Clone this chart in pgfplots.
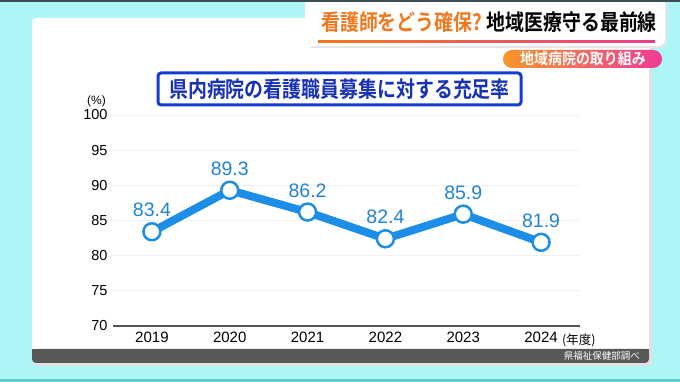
\documentclass[border=0pt]{standalone}
\usepackage{fontspec}
\setmainfont{Liberation Sans}
\newfontfamily\cjk{Noto Sans CJK JP}[BoldFont={Noto Sans CJK JP Bold}]
\usepackage{pgfplots}
\pgfplotsset{compat=1.18}
\definecolor{bgc}{RGB}{172,246,246}
\definecolor{topdark}{RGB}{60,78,84}
\definecolor{tealline}{RGB}{100,205,205}
\definecolor{barc}{RGB}{88,88,88}
\definecolor{orangeT}{RGB}{242,120,30}
\definecolor{pinkT}{RGB}{236,60,140}
\definecolor{pillO}{RGB}{246,150,40}
\definecolor{pillP}{RGB}{240,60,150}
\definecolor{boxblue}{RGB}{20,60,210}
\definecolor{boxtext}{RGB}{25,50,180}
\definecolor{lineblue}{RGB}{28,142,232}
\definecolor{labelblue}{RGB}{34,132,212}
\definecolor{gridc}{RGB}{240,240,240}
\definecolor{axisc}{RGB}{85,85,85}
\begin{document}
\begin{tikzpicture}
\useasboundingbox (0,0) rectangle (680pt,382pt);
\begin{scope}[x=1pt,y=-1pt,yshift=382pt]
\clip (0,0) rectangle (680,382);
\fill[bgc] (0,0) rectangle (680,382);
% panel
\fill[black!12,rounded corners=4] (34,20) rectangle (652,366);
\fill[white,rounded corners=4] (32,18) rectangle (649,363);
\fill[barc,rounded corners=4] (32,349) rectangle (649,363);
\fill[barc] (32,349) rectangle (649,355);
\node[anchor=east,text=white,inner sep=0,font=\cjk\fontsize{9.5}{10}\selectfont] at (640,356) {県福祉保健部調べ};
% banner
\fill[black!10,rounded corners=7] (307,-10) rectangle (667,48);
\fill[white,rounded corners=7] (305,-10) rectangle (665,46);
\shade[left color=orangeT,right color=pinkT] (318,41) rectangle (655,43);
\node[anchor=west,inner sep=0,font=\cjk\bfseries\fontsize{22}{24}\selectfont] at (321,22)
  {\scalebox{0.86}[1]{\textcolor{orangeT}{看護師をどう確保?}\hspace{5pt}地域医療守る最前線}};
% pill
\shade[rounded corners=9,left color=pillO,right color=pillP] (503,50) rectangle (662,68);
\node[anchor=center,inner sep=0,text=white,font=\cjk\bfseries\fontsize{15.5}{17}\selectfont] at (583,59)
  {\scalebox{0.9}[1]{地域病院の取り組み}};
% chart title box
\draw[boxblue,line width=3pt,fill=white,rounded corners=3] (158,73) rectangle (521,105);
\node[anchor=center,inner sep=0,text=boxtext,font=\cjk\bfseries\fontsize{22}{24}\selectfont] at (339.5,89)
  {\scalebox{0.86}[1]{県内病院の看護職員募集に対する充足率}};
% units
\node[anchor=east,inner sep=0,font=\fontsize{12}{14}\selectfont] at (106,101) {(\%)};
\node[anchor=west,inner sep=0,font=\cjk\fontsize{12.5}{14}\selectfont] at (562,340) {(年度)};
\fill[topdark] (0,0) rectangle (680,2);
\fill[tealline] (0,379) rectangle (680,382);
\end{scope}
\begin{axis}[
  at={(113pt,56pt)}, anchor=south west,
  scale only axis, width=467pt, height=211pt,
  xmin=-0.5, xmax=5.5, ymin=70, ymax=100,
  xtick={0,1,2,3,4,5},
  xticklabels={2019,2020,2021,2022,2023,2024},
  ytick={70,75,80,85,90,95,100},
  axis line style={draw=none},
  tick style={draw=none},
  ymajorgrids, grid style={gridc,line width=0.8pt},
  /pgf/number format/assume math mode=true,
  tick label style={font=\fontsize{14.5}{16}\selectfont},
  xticklabel style={font=\fontsize{15}{17}\selectfont,yshift=-2pt},
  yticklabel style={xshift=-2pt},
  clip=false,
]
\draw[axisc,line width=2pt] (axis cs:-0.5,70) -- (axis cs:5.5,70);
\addplot[color=lineblue,line width=8pt,line join=round,
  mark=*,mark size=8.5pt,
  mark options={fill=white,draw=lineblue,line width=2.5pt},
  nodes near coords,
  every node near coord/.append style={anchor=center,yshift=21.5pt,inner sep=0,
    text=labelblue,font=\fontsize{19.5}{22}\selectfont,
    /pgf/number format/fixed,/pgf/number format/precision=1,/pgf/number format/fixed zerofill},
] coordinates {(0,83.4) (1,89.3) (2,86.2) (3,82.4) (4,85.9) (5,81.9)};
\end{axis}
\end{tikzpicture}
\end{document}
